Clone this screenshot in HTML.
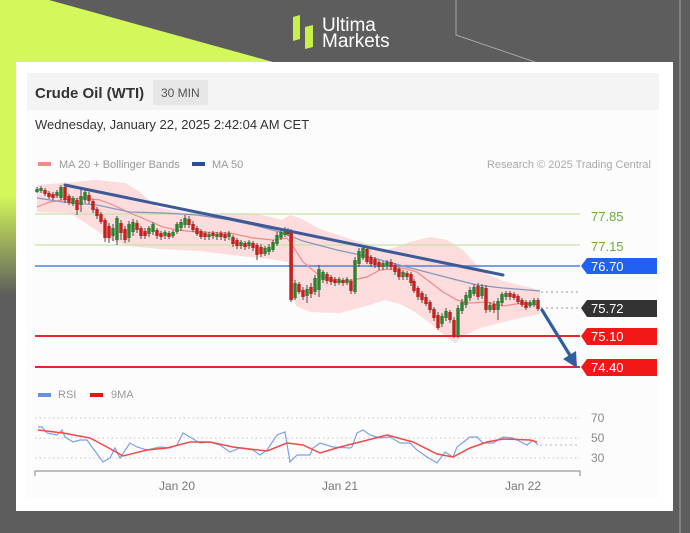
<!DOCTYPE html>
<html><head><meta charset="utf-8"><style>
html,body{margin:0;padding:0;width:690px;height:533px;overflow:hidden;background:#5d5d5d;}
svg{display:block;font-family:"Liberation Sans",Arial,sans-serif;}
</style></head><body>
<svg width="690" height="533" viewBox="0 0 690 533" xmlns="http://www.w3.org/2000/svg">
<defs>
<linearGradient id="lg" x1="0" y1="0" x2="0" y2="1">
<stop offset="0" stop-color="#d4f85a"/><stop offset="0.66" stop-color="#d4f85a"/><stop offset="1" stop-color="#5d5d5d"/>
</linearGradient>
</defs>
<rect width="690" height="533" fill="#5d5d5d"/>
<polygon points="0,0 49,0 273,62 16,62 16,80 0,80" fill="#d4f85a"/>
<rect x="0" y="0" width="17" height="295" fill="url(#lg)"/>
<polyline points="456,0 456,35 535,62" fill="none" stroke="#a8a8a8" stroke-width="1"/>
<line x1="680" y1="0" x2="680" y2="533" stroke="#9a9a9a" stroke-width="1.2"/>
<!-- logo -->
<polygon points="293,17 300,15 300,39 293,41" fill="#c6f04a"/>
<polygon points="305,27 313,25 313,47 305,49" fill="#c6f04a"/>
<text x="322" y="31" font-size="19" fill="#ffffff">Ultima</text>
<text x="322" y="47" font-size="19" fill="#ffffff">Markets</text>
<!-- card -->
<rect x="16" y="62" width="657" height="449" fill="#ffffff"/>
<rect x="27" y="73" width="632" height="425" fill="#fcfcfc"/>
<rect x="27" y="73" width="632" height="37" fill="#f4f4f4"/>
<text x="35" y="98" font-size="15" font-weight="bold" fill="#333">Crude Oil (WTI)</text>
<rect x="153" y="80" width="55" height="25" rx="2" fill="#e6e6e6"/>
<text x="161" y="97" font-size="12" fill="#555">30 MIN</text>
<text x="35" y="129" font-size="13" fill="#333">Wednesday, January 22, 2025 2:42:04 AM CET</text>
<rect x="38" y="162" width="13" height="4" fill="#f28b8b"/>
<text x="59" y="168" font-size="11" fill="#999">MA 20 + Bollinger Bands</text>
<rect x="192" y="162" width="13" height="4" fill="#2c4f93"/>
<text x="212" y="168" font-size="11" fill="#999">MA 50</text>
<text x="651" y="168" font-size="11" fill="#aaa" text-anchor="end">Research © 2025 Trading Central</text>

<!-- Bollinger band -->
<polygon fill="#fbd3d3" fill-opacity="0.8" points="37,185 63,183 97,180 125,183 140,192 157,207 180,212 210,214 240,213 262,215 282,220 290,215 300,218 320,229 353,240 387,250 410,242 430,237 447,240 463,250 483,272 503,281 540,290 540,314 520,318 500,323 480,328 465,335 455,343 445,336 430,323 415,312 400,304 385,300 370,305 340,313 310,312 296,306 291,280 288,262 270,259 240,256 200,251 160,249 130,246 110,240 90,226 70,213 37,212"/>

<!-- horizontal levels -->
<line x1="35" y1="214" x2="580" y2="214" stroke="#c5e3a8" stroke-width="1.2"/>
<line x1="35" y1="245" x2="580" y2="245" stroke="#c5e3a8" stroke-width="1.2"/>
<line x1="35" y1="266" x2="580" y2="266" stroke="#4f80e4" stroke-width="1.5"/>
<line x1="35" y1="336" x2="580" y2="336" stroke="#e8262a" stroke-width="2"/>
<line x1="35" y1="367" x2="580" y2="367" stroke="#e8262a" stroke-width="2"/>
<line x1="541" y1="292" x2="580" y2="292" stroke="#999" stroke-width="1" stroke-dasharray="2 3"/>
<line x1="541" y1="308" x2="580" y2="308" stroke="#999" stroke-width="1" stroke-dasharray="2 3"/>

<!-- MA lines -->
<polyline fill="none" stroke="#f08a8a" stroke-width="1.2" points="37,207 50,202 63,200 83,198 100,200 113,205 130,213 147,220 163,227 177,230 197,232 230,233 253,238 273,240 287,238 292,245 303,262 320,276 337,282 353,280 367,277 380,270 403,268 417,272 430,282 443,292 457,300 470,303 487,302 503,306 523,303 537,305"/>
<polyline fill="none" stroke="#8596bd" stroke-width="1.2" points="37,198 63,202 97,205 130,212 163,213 197,215 230,220 253,225 280,232 303,241 337,250 370,257 403,266 430,273 457,280 477,285 503,288 540,291"/>

<!-- wicks -->
<path fill="none" stroke="#4a4a4a" stroke-width="1" d="M37 187V193M41 186V193M45 188V196M49 191V199M53 192V200M57 190V198M61 185V200M65 185V203M69 194V205M73 196V206M77 198V215M81 188V212M85 190V203M89 192V204M93 199V213M97 207V219M101 212V224M105 218V242M109 223V243M113 224V241M117 216V245M121 220V240M125 226V243M129 221V242M133 219V236M137 220V233M141 226V239M145 228V239M149 226V237M153 222V235M157 228V239M161 231V240M165 230V239M169 231V239M173 230V238M177 222V234M181 219V231M185 215V228M189 216V228M193 221V232M197 226V236M201 229V239M205 231V240M209 232V240M213 231V239M217 232V240M221 231V240M225 232V241M229 231V240M233 235V247M237 238V249M241 240V249M245 241V250M249 240V249M253 241V251M257 243V260M261 244V257M265 246V256M269 244V255M273 240V252M277 232V246M281 229V240M285 227V237M288 228V236M291 229V302M295 280V300M299 282V294M303 287V300M307 285V303M311 283V298M315 275V295M319 265V297M323 270V283M327 272V284M331 275V285M335 277V286M339 277V285M343 278V286M347 277V285M351 279V294M355 257V294M359 248V267M363 245V260M367 246V264M371 255V267M375 257V268M379 260V270M383 261V270M387 260V269M391 259V270M395 263V275M399 267V280M403 270V280M407 271V280M411 272V286M414 279V293M418 286V300M422 291V303M426 294V306M430 300V313M434 307V321M438 312V330M442 313V327M446 308V321M450 310V323M454 317V338M458 305V338M462 299V314M466 292V308M470 287V301M474 284V296M478 283V300M482 284V299M486 285V313M490 302V312M494 301V313M498 298V320M502 292V306M506 291V300M510 291V300M514 292V300M518 294V304M522 298V307M526 300V310M530 300V308M534 298V307M538 298V311"/>

<!-- green bodies -->
<g fill="#2f8033" transform="translate(-0.2,0)">
<rect x="35.5" y="189" width="3.4" height="3"/><rect x="39.5" y="188" width="3.4" height="3"/><rect x="55.5" y="192" width="3.4" height="4"/><rect x="59.5" y="187" width="3.4" height="11"/><rect x="71.5" y="198" width="3.4" height="6"/><rect x="79.5" y="196" width="3.4" height="9"/><rect x="83.5" y="192" width="3.4" height="8"/><rect x="111.5" y="228" width="3.4" height="8"/><rect x="115.5" y="218" width="3.4" height="22"/><rect x="127.5" y="224" width="3.4" height="14"/><rect x="131.5" y="222" width="3.4" height="10"/><rect x="147.5" y="228" width="3.4" height="6"/><rect x="151.5" y="224" width="3.4" height="8"/><rect x="163.5" y="232" width="3.4" height="4"/><rect x="171.5" y="232" width="3.4" height="4"/><rect x="175.5" y="224" width="3.4" height="8"/><rect x="179.5" y="222" width="3.4" height="6"/><rect x="183.5" y="218" width="3.4" height="7"/><rect x="207.5" y="234" width="3.4" height="3"/><rect x="215.5" y="234" width="3.4" height="3"/><rect x="227.5" y="233" width="3.4" height="4"/><rect x="239.5" y="242" width="3.4" height="4"/><rect x="247.5" y="242" width="3.4" height="4"/><rect x="263.5" y="248" width="3.4" height="6"/><rect x="267.5" y="247" width="3.4" height="5"/><rect x="271.5" y="242" width="3.4" height="8"/><rect x="275.5" y="235" width="3.4" height="9"/><rect x="279.5" y="232" width="3.4" height="6"/><rect x="283.5" y="229" width="3.4" height="6"/><rect x="293.5" y="283" width="3.4" height="15"/><rect x="305.5" y="289" width="3.4" height="7"/><rect x="313.5" y="278" width="3.4" height="14"/><rect x="317.5" y="269" width="3.4" height="21"/><rect x="321.5" y="272" width="3.4" height="8"/><rect x="337.5" y="279" width="3.4" height="4"/><rect x="345.5" y="279" width="3.4" height="4"/><rect x="353.5" y="260" width="3.4" height="32"/><rect x="357.5" y="251" width="3.4" height="13"/><rect x="361.5" y="248" width="3.4" height="10"/><rect x="381.5" y="263" width="3.4" height="4"/><rect x="385.5" y="262" width="3.4" height="4"/><rect x="401.5" y="272" width="3.4" height="5"/><rect x="440.5" y="316" width="3.4" height="8"/><rect x="444.5" y="311" width="3.4" height="7"/><rect x="456.5" y="308" width="3.4" height="28"/><rect x="460.5" y="302" width="3.4" height="9"/><rect x="464.5" y="295" width="3.4" height="10"/><rect x="468.5" y="290" width="3.4" height="8"/><rect x="472.5" y="287" width="3.4" height="7"/><rect x="480.5" y="287" width="3.4" height="9"/><rect x="488.5" y="305" width="3.4" height="5"/><rect x="496.5" y="301" width="3.4" height="9"/><rect x="500.5" y="294" width="3.4" height="9"/><rect x="504.5" y="293" width="3.4" height="4"/><rect x="528.5" y="302" width="3.4" height="4"/><rect x="532.5" y="300" width="3.4" height="5"/>
</g>
<!-- red bodies -->
<g fill="#c42220" transform="translate(-0.2,0)">
<rect x="43.5" y="190" width="3.4" height="4"/><rect x="47.5" y="193" width="3.4" height="4"/><rect x="51.5" y="194" width="3.4" height="4"/><rect x="63.5" y="187" width="3.4" height="13"/><rect x="67.5" y="196" width="3.4" height="7"/><rect x="75.5" y="200" width="3.4" height="10"/><rect x="87.5" y="195" width="3.4" height="6"/><rect x="91.5" y="201" width="3.4" height="9"/><rect x="95.5" y="209" width="3.4" height="7"/><rect x="99.5" y="214" width="3.4" height="8"/><rect x="103.5" y="220" width="3.4" height="18"/><rect x="107.5" y="226" width="3.4" height="12"/><rect x="119.5" y="223" width="3.4" height="10"/><rect x="123.5" y="229" width="3.4" height="11"/><rect x="135.5" y="223" width="3.4" height="7"/><rect x="139.5" y="228" width="3.4" height="8"/><rect x="143.5" y="231" width="3.4" height="5"/><rect x="155.5" y="230" width="3.4" height="6"/><rect x="159.5" y="233" width="3.4" height="4"/><rect x="167.5" y="233" width="3.4" height="4"/><rect x="187.5" y="219" width="3.4" height="6"/><rect x="191.5" y="224" width="3.4" height="6"/><rect x="195.5" y="228" width="3.4" height="6"/><rect x="199.5" y="231" width="3.4" height="6"/><rect x="203.5" y="233" width="3.4" height="4"/><rect x="211.5" y="233" width="3.4" height="3"/><rect x="219.5" y="233" width="3.4" height="4"/><rect x="223.5" y="234" width="3.4" height="4"/><rect x="231.5" y="237" width="3.4" height="7"/><rect x="235.5" y="240" width="3.4" height="6"/><rect x="243.5" y="243" width="3.4" height="4"/><rect x="251.5" y="243" width="3.4" height="5"/><rect x="255.5" y="245" width="3.4" height="10"/><rect x="259.5" y="247" width="3.4" height="7"/><rect x="286.5" y="230" width="3.4" height="4"/><rect x="289.5" y="231" width="3.6" height="69"/><rect x="297.5" y="284" width="3.4" height="8"/><rect x="301.5" y="290" width="3.4" height="7"/><rect x="309.5" y="287" width="3.4" height="7"/><rect x="325.5" y="274" width="3.4" height="7"/><rect x="329.5" y="277" width="3.4" height="5"/><rect x="333.5" y="279" width="3.4" height="4"/><rect x="341.5" y="280" width="3.4" height="3"/><rect x="349.5" y="281" width="3.4" height="10"/><rect x="365.5" y="249" width="3.4" height="13"/><rect x="369.5" y="257" width="3.4" height="7"/><rect x="373.5" y="259" width="3.4" height="6"/><rect x="377.5" y="262" width="3.4" height="5"/><rect x="389.5" y="262" width="3.4" height="5"/><rect x="393.5" y="265" width="3.4" height="7"/><rect x="397.5" y="269" width="3.4" height="8"/><rect x="405.5" y="273" width="3.4" height="4"/><rect x="409.5" y="274" width="3.4" height="9"/><rect x="412.5" y="281" width="3.4" height="10"/><rect x="416.5" y="288" width="3.4" height="9"/><rect x="420.5" y="293" width="3.4" height="7"/><rect x="424.5" y="297" width="3.4" height="7"/><rect x="428.5" y="302" width="3.4" height="8"/><rect x="432.5" y="309" width="3.4" height="9"/><rect x="436.5" y="315" width="3.4" height="13"/><rect x="448.5" y="312" width="3.4" height="8"/><rect x="452.5" y="320" width="3.4" height="16"/><rect x="476.5" y="286" width="3.4" height="11"/><rect x="484.5" y="288" width="3.4" height="22"/><rect x="492.5" y="304" width="3.4" height="6"/><rect x="508.5" y="293" width="3.4" height="4"/><rect x="512.5" y="294" width="3.4" height="4"/><rect x="516.5" y="296" width="3.4" height="6"/><rect x="520.5" y="300" width="3.4" height="5"/><rect x="524.5" y="302" width="3.4" height="6"/><rect x="536.5" y="300" width="3.4" height="9"/>
</g>

<!-- trendline -->
<line x1="65" y1="185" x2="503" y2="275" stroke="#3d5a98" stroke-width="3" stroke-linecap="round"/>
<!-- arrow -->
<line x1="542" y1="310" x2="571" y2="357" stroke="#2f5d9e" stroke-width="3.2" stroke-linecap="round"/>
<polygon points="577,368 563,359 576,351" fill="#2f5d9e"/>

<!-- price labels -->
<text x="591" y="221" font-size="13" fill="#6cab3c">77.85</text>
<text x="591" y="251" font-size="13" fill="#6cab3c">77.15</text>
<polygon points="581,266 587,258 657,258 657,274 587,274" fill="#1f62f0"/>
<text x="591" y="271" font-size="13" fill="#ffffff">76.70</text>
<polygon points="581,308 587,300 657,300 657,317 587,317" fill="#333333"/>
<text x="591" y="313" font-size="13" fill="#ffffff">75.72</text>
<polygon points="581,336 587,328 657,328 657,345 587,345" fill="#f21818"/>
<text x="591" y="341" font-size="13" fill="#ffffff">75.10</text>
<polygon points="581,367 587,359 657,359 657,376 587,376" fill="#f21818"/>
<text x="591" y="372" font-size="13" fill="#ffffff">74.40</text>

<!-- RSI panel -->
<rect x="38" y="393" width="13" height="4" fill="#6b8fe0"/>
<text x="58" y="398" font-size="11" fill="#999">RSI</text>
<rect x="90" y="393" width="13" height="4" fill="#ee1111"/>
<text x="111" y="398" font-size="11" fill="#999">9MA</text>
<g stroke="#c8c8c8" stroke-width="1" stroke-dasharray="1.5 3">
<line x1="35" y1="418" x2="580" y2="418"/>
<line x1="35" y1="438" x2="580" y2="438"/>
<line x1="35" y1="458" x2="580" y2="458"/>
</g>
<line x1="540" y1="445" x2="580" y2="445" stroke="#a8b8e8" stroke-width="1" stroke-dasharray="2 3"/>
<text x="591" y="422" font-size="12" fill="#888">70</text>
<text x="591" y="442" font-size="12" fill="#888">50</text>
<text x="591" y="462" font-size="12" fill="#888">30</text>
<polyline fill="none" stroke="#7f9fe6" stroke-width="1.2" points="38,427 42,427 47,433 57,435 62,430 65,437 73,442 80,440 87,440 92,447 98,455 103,462 110,458 115,448 120,458 130,443 137,447 147,450 160,447 170,448 177,445 183,433 190,437 200,443 210,442 220,445 230,452 240,448 253,450 260,455 267,450 277,435 285,432 290,462 297,455 310,455 313,448 320,443 333,447 350,448 352,447 357,433 363,430 370,435 380,438 390,437 400,443 410,443 417,450 427,457 437,463 445,452 453,457 457,447 470,437 477,437 483,443 493,443 503,437 513,438 527,445 533,440 538,445"/>
<polyline fill="none" stroke="#ef4a4a" stroke-width="1.5" points="38,430 63,433 90,438 107,447 123,456 147,450 167,448 190,442 210,442 233,447 267,451 287,443 303,445 320,453 340,447 360,442 387,435 413,442 437,454 453,457 470,448 487,442 503,439 530,440 537,442"/>
<path d="M35 476V471H580V476" fill="none" stroke="#999" stroke-width="1.2"/>
<text x="177" y="490" font-size="12" fill="#777" text-anchor="middle">Jan 20</text>
<text x="340" y="490" font-size="12" fill="#777" text-anchor="middle">Jan 21</text>
<text x="523" y="490" font-size="12" fill="#777" text-anchor="middle">Jan 22</text>
</svg>
</body></html>
